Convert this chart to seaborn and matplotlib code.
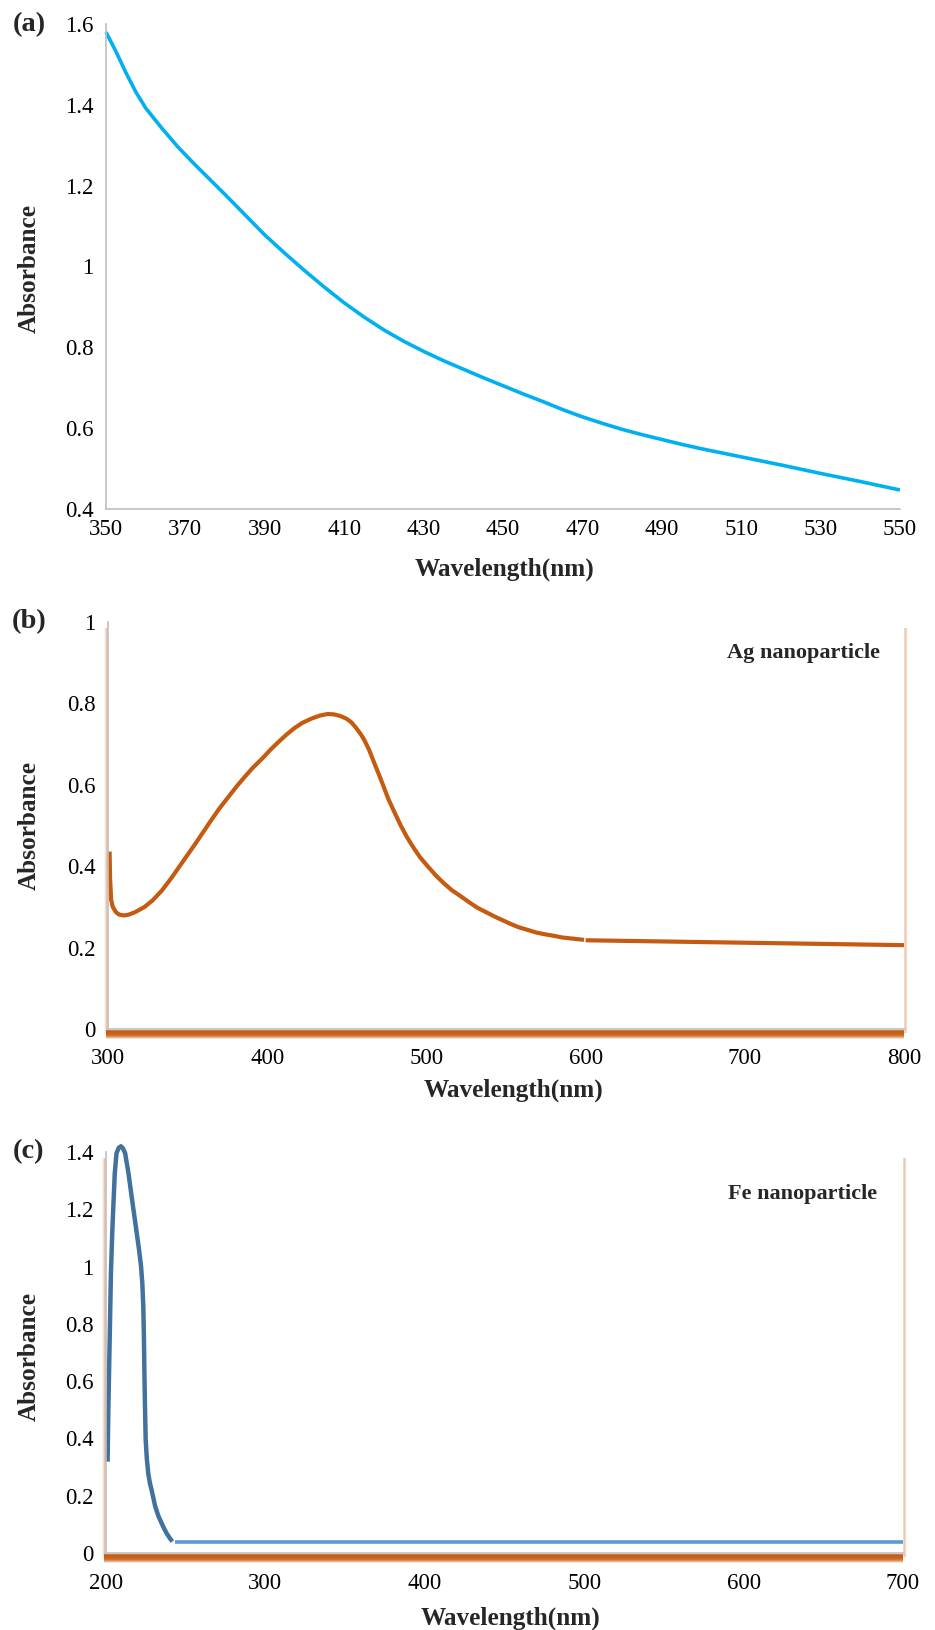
import numpy as np
import pandas as pd
import matplotlib
matplotlib.use("Agg")
import matplotlib.pyplot as plt
import matplotlib.transforms as mtransforms
from matplotlib.lines import Line2D
from matplotlib.ticker import FuncFormatter
import seaborn as sns

# ---------------- data ----------------
a_wl = [350, 352.5, 355, 357.5, 360, 364, 368, 372, 376, 380, 385, 390, 395, 400,
        405, 410, 415, 420, 425, 430, 435, 440, 445, 450, 455, 460, 465, 470,
        475, 480, 485, 490, 495, 500, 510, 520, 530, 540, 550]
a_abs = [1.58, 1.532, 1.48, 1.432, 1.392, 1.343, 1.297, 1.256, 1.217, 1.178,
         1.128, 1.078, 1.033, 0.99, 0.949, 0.91, 0.875, 0.843, 0.815, 0.79,
         0.767, 0.746, 0.725, 0.705, 0.685, 0.666, 0.646, 0.628, 0.612, 0.597,
         0.584, 0.572, 0.56, 0.549, 0.529, 0.509, 0.488, 0.468, 0.447]

b_wl = [301, 301.3, 302, 303, 305, 307, 310, 313, 317, 323, 328, 334, 340, 345,
        350, 355, 360, 365, 370, 376, 381, 386, 391, 397, 402, 407, 412, 417,
        422, 428, 433, 438, 442, 446, 450, 453, 456, 459, 461, 464, 467, 470,
        473, 476, 480, 484, 488, 492, 496, 501, 506, 511, 516, 522, 527, 532,
        538, 543, 548, 553, 558, 564, 569, 574, 580, 585, 592, 599]
b_abs = [0.436, 0.37, 0.317, 0.30, 0.287, 0.281, 0.279, 0.281, 0.287, 0.300,
         0.316, 0.341, 0.372, 0.40, 0.428, 0.456, 0.485, 0.514, 0.542, 0.572,
         0.597, 0.62, 0.642, 0.665, 0.686, 0.705, 0.723, 0.739, 0.752, 0.763,
         0.77, 0.774, 0.773, 0.769, 0.762, 0.753, 0.739, 0.723, 0.71, 0.686,
         0.656, 0.627, 0.597, 0.566, 0.532, 0.499, 0.47, 0.445, 0.422, 0.399,
         0.377, 0.358, 0.341, 0.325, 0.311, 0.298, 0.286, 0.276, 0.267, 0.258,
         0.25, 0.243, 0.237, 0.233, 0.229, 0.225, 0.222, 0.219]
b_tail_wl = [600, 700, 800]
b_tail_abs = [0.218, 0.212, 0.206]

c_wl = [201, 201.5, 201.9, 202.5, 203.1, 203.9, 204.6, 205.5, 206.6, 208, 209.4,
        210.7, 212, 214.1, 216.1, 217.7, 219.3, 220.7, 222, 222.8, 223.4, 223.8,
        224.1, 224.5, 224.9, 225.6, 226.5, 227.5, 228.6, 230.9, 232.8, 234.9,
        236.5, 238, 240, 241.6]
c_abs = [0.319, 0.511, 0.627, 0.80, 0.977, 1.116, 1.209, 1.326, 1.396, 1.415,
         1.42, 1.412, 1.396, 1.326, 1.244, 1.18, 1.116, 1.06, 1.0, 0.94, 0.86,
         0.75, 0.627, 0.5, 0.395, 0.33, 0.278, 0.245, 0.22, 0.162, 0.13, 0.104,
         0.085, 0.069, 0.052, 0.04]
c_tail_wl = [243, 700]
c_tail_abs = [0.039, 0.039]

a_xticks = list(range(350, 551, 20))
a_yticks = [0.4, 0.6, 0.8, 1.0, 1.2, 1.4, 1.6]
b_xticks = [300, 400, 500, 600, 700, 800]
b_yticks = [0, 0.2, 0.4, 0.6, 0.8, 1.0]
c_xticks = [200, 300, 400, 500, 600, 700]
c_yticks = [0, 0.2, 0.4, 0.6, 0.8, 1.0, 1.2, 1.4]

panel_letters = ["(a)", "(b)", "(c)"]
xlabel_text = "Wavelength(nm)"
ylabel_text = "Absorbance"
b_note = "Ag nanoparticle"
c_note = "Fe nanoparticle"

# ---------------- style ----------------
sns.set_style("white")
plt.rcParams["font.family"] = ["Liberation Serif", "DejaVu Serif"]
plt.rcParams["lines.solid_joinstyle"] = "round"
plt.rcParams["lines.solid_capstyle"] = "butt"

W, H = 935, 1630
fig = plt.figure(figsize=(W / 100, H / 100), dpi=100)


def add_axes_px(left, top, right, bottom):
    return fig.add_axes([left / W, 1 - bottom / H, (right - left) / W, (bottom - top) / H])


ax_a = add_axes_px(106, 24, 900, 509)
ax_b = add_axes_px(108, 622, 904, 1029)
ax_c = add_axes_px(106, 1152, 903, 1553)

GRAY = "#BFBFBF"
ORANGE = "#C55A11"

fmt = FuncFormatter(lambda v, p: ("%g" % round(v, 2)))


def style_axes(ax, xticks, yticks, xlim, ylim, xpad, ylab_xy, xlab_xy):
    ax.set_xlim(*xlim)
    ax.set_ylim(*ylim)
    ax.set_xticks(xticks)
    ax.set_yticks(yticks)
    ax.yaxis.set_major_formatter(fmt)
    ax.tick_params(axis="both", length=0, labelsize=16.5, colors="black")
    ax.tick_params(axis="y", pad=9)
    ax.tick_params(axis="x", pad=xpad)
    for s in ["top", "right"]:
        ax.spines[s].set_visible(False)
    for s in ["left", "bottom"]:
        ax.spines[s].set_color(GRAY)
        ax.spines[s].set_linewidth(1.2)
    ax.grid(False)
    ax.set_xlabel(xlabel_text, fontsize=18.2, fontweight="bold", va="center")
    ax.set_ylabel(ylabel_text, fontsize=18.2, fontweight="bold", va="center")
    ax.xaxis.set_label_coords(*xlab_xy)
    ax.yaxis.set_label_coords(*ylab_xy)
    for ln in ax.get_lines():
        ln.set_clip_on(False)


def shadow(ax):
    """Excel-like orange soft shadow around the plot area."""
    def off(dx, dy):
        return ax.transAxes + mtransforms.ScaledTranslation(dx / 100, dy / 100, fig.dpi_scale_trans)
    # bottom band
    for i, al in enumerate([1.0, 1.0, 0.95, 0.9, 0.8, 0.6, 0.4, 0.2]):
        ax.add_line(Line2D([-0.002, 1.0], [0, 0], transform=off(0, -1.5 - i), color=ORANGE,
                           alpha=al, lw=1.2, clip_on=False, zorder=0, solid_capstyle="butt"))
    # left and right soft edges
    for i, al in enumerate([0.3, 0.18, 0.08]):
        ax.add_line(Line2D([0, 0], [-0.01, 0.985], transform=off(-1.5 - i, 0), color=ORANGE,
                           alpha=al, lw=1.1, clip_on=False, zorder=0))
        ax.add_line(Line2D([1, 1], [-0.01, 0.985], transform=off(0.5 + i, 0), color=ORANGE,
                           alpha=al, lw=1.1, clip_on=False, zorder=0))


# ---------------- panel a ----------------
df_a = pd.DataFrame({"wl": a_wl, "abs": a_abs})
sns.lineplot(data=df_a, x="wl", y="abs", ax=ax_a, color="#00B0F0", lw=2.6, estimator=None)
style_axes(ax_a, a_xticks, a_yticks, (350, 550), (0.4, 1.6), 7,
           (-0.097, 0.495), (0.5025, -0.1237))

# ---------------- panel b ----------------
df_b = pd.DataFrame({"wl": b_wl, "abs": b_abs})
df_bt = pd.DataFrame({"wl": b_tail_wl, "abs": b_tail_abs})
sns.lineplot(data=df_b, x="wl", y="abs", ax=ax_b, color=ORANGE, lw=3.0, estimator=None)
sns.lineplot(data=df_bt, x="wl", y="abs", ax=ax_b, color=ORANGE, lw=3.0, estimator=None)
style_axes(ax_b, b_xticks, b_yticks, (300, 800), (0, 1.0), 14,
           (-0.0992, 0.501), (0.509, -0.15))
shadow(ax_b)

# ---------------- panel c ----------------
df_c = pd.DataFrame({"wl": c_wl, "abs": c_abs})
df_ct = pd.DataFrame({"wl": c_tail_wl, "abs": c_tail_abs})
sns.lineplot(data=df_c, x="wl", y="abs", ax=ax_c, color="#41719C", lw=3.2, estimator=None)
sns.lineplot(data=df_ct, x="wl", y="abs", ax=ax_c, color="#5B9BD5", lw=2.6, estimator=None)
style_axes(ax_c, c_xticks, c_yticks, (200, 700), (0, 1.4), 14.5,
           (-0.0966, 0.489), (0.507, -0.162))
shadow(ax_c)

# ---------------- annotations ----------------
for lab, ypx in zip(panel_letters, [25, 622, 1152]):
    fig.text(29 / W, 1 - ypx / H, lab, fontsize=20.5, fontweight="bold",
             ha="center", va="center")
fig.text(727 / W, 1 - 653 / H, b_note, fontsize=16, fontweight="bold", ha="left", va="center")
fig.text(728 / W, 1 - 1194 / H, c_note, fontsize=16, fontweight="bold", ha="left", va="center")

fig.savefig("out.png", dpi=100, facecolor="white")
